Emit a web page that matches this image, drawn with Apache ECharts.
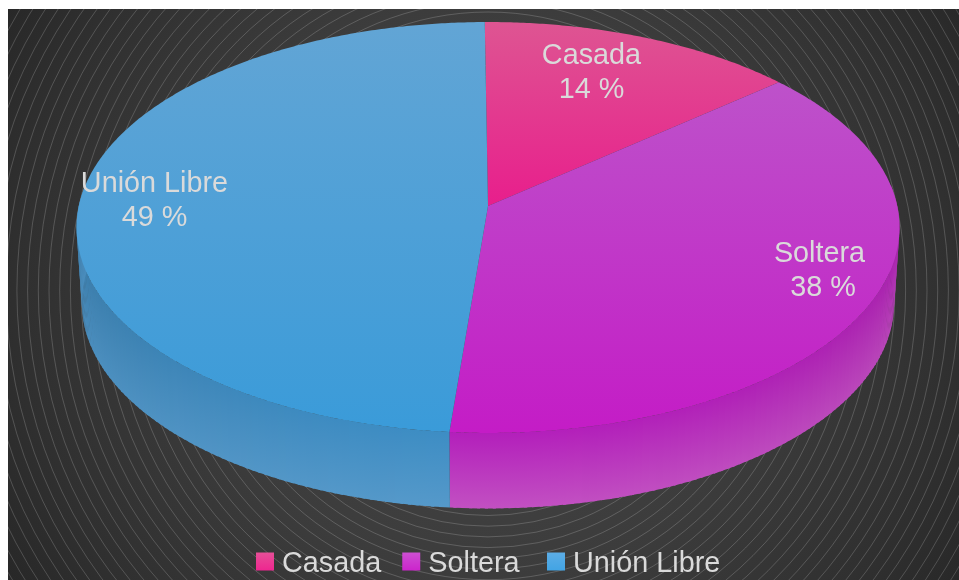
<!DOCTYPE html>
<html>
<head>
<meta charset="utf-8">
<style>html,body{margin:0;padding:0;background:#fff}#chart{width:959px;height:580px}</style>
<script src="https://cdn.jsdelivr.net/npm/echarts@6/dist/echarts.min.js"></script>
</head>
<body>
<div id="chart"></div>
<script>
// Estado civil: tres categorías y su porcentaje
const categories = ['Casada', 'Soltera', 'Unión Libre'];
const percentages = [14, 38, 49];

// Degradados de cara superior, zona trasera a zona frontal
const topColors = [
  ['#de5592', '#e81e8c'],
  ['#bd52ca', '#c41cc6'],
  ['#62a5d5', '#3a9bd9']
];
// Pared lateral: [arriba, abajo] en el frente y en los extremos del disco
const sideFront = [
  ['#c01c78', '#d04c9c'],
  ['#b31fbb', '#c250c2'],
  ['#3d8dc4', '#5599ca']
];
const sideEdge = [
  ['#b01c70', '#c04494'],
  ['#a823ad', '#b846b8'],
  ['#3c7ca9', '#4a8dbd']
];
const swatchColors = [
  ['#e64f97', '#ee2690'],
  ['#cc4fd2', '#cc24cc'],
  ['#5cade6', '#42a4e4']
];

// Proyección en perspectiva del disco
const CX = 488, APEX_Y = 206, AX = 409.2, AY = 203.2, PERSP = 0.1046;
const DEPTH = 75.5, BASE_SCALE = 0.987, START_ANGLE = -0.5;
const labelLayout = [
  { x: 591.5, y: [56, 90] },
  { x: 819.5, y: [254, 288], dx2: 3.5 },
  { x: 154.5, y: [184, 218] }
];

const total = percentages.reduce((a, b) => a + b, 0);

function project(deg, r) {
  const t = deg * Math.PI / 180;
  const u = r * Math.sin(t), v = -r * Math.cos(t);
  const w = 1 - PERSP * v;
  return [CX + AX * u / w, APEX_Y + AY * v / w];
}
function base(p) {
  return [CX + (p[0] - CX) * BASE_SCALE, p[1] + DEPTH];
}
function hex(c) {
  return [1, 3, 5].map(i => parseInt(c.slice(i, i + 2), 16));
}
function mix(a, b, t) {
  const x = hex(a), y = hex(b);
  return 'rgb(' + x.map((n, i) => Math.round(n + (y[i] - n) * t)).join(',') + ')';
}
function vGrad(y1, y2, c1, c2) {
  return { type: 'linear', x: 0, y: y1, x2: 0, y2: y2, global: true,
    colorStops: [{ offset: 0, color: c1 }, { offset: 1, color: c2 }] };
}

function sliceRange(idx) {
  const before = percentages.slice(0, idx).reduce((a, b) => a + b, 0);
  return [START_ANGLE + before / total * 360, START_ANGLE + (before + percentages[idx]) / total * 360];
}

function renderSlice(idx) {
  const [a0, a1] = sliceRange(idx);
  const children = [];

  // Pared lateral: sólo la mitad visible del contorno
  const sideStart = Math.max(a0, 84), sideEnd = Math.min(a1, 276);
  const STEP = 1;
  for (let a = sideStart; a < sideEnd; a += STEP) {
    const b = Math.min(a + STEP + 0.4, sideEnd);
    const p0 = project(a, 1), p1 = project(b, 1);
    const q0 = base(p0), q1 = base(p1);
    const edge = Math.pow(Math.abs(Math.sin(a * Math.PI / 180)), 2);
    const c1 = mix(sideFront[idx][0], sideEdge[idx][0], edge);
    const c2 = mix(sideFront[idx][1], sideEdge[idx][1], edge);
    children.push({
      type: 'polygon',
      shape: { points: [p0, p1, q1, q0] },
      style: { fill: vGrad(Math.min(p0[1], p1[1]), Math.max(q0[1], q1[1]), c1, c2) },
      silent: true
    });
  }

  // Cara superior
  const pts = [project(0, 0)];
  for (let a = a0; a < a1; a += 0.5) pts.push(project(a, 1));
  pts.push(project(a1, 1));
  const ys = pts.map(p => p[1]);
  children.push({
    type: 'polygon',
    shape: { points: pts },
    style: { fill: vGrad(Math.min(...ys), Math.max(...ys), topColors[idx][0], topColors[idx][1]) },
    silent: true
  });

  // Etiqueta de nombre y porcentaje
  const L = labelLayout[idx];
  [categories[idx], percentages[idx] + ' %'].forEach((text, line) => {
    children.push({
      type: 'text',
      z2: 100,
      style: {
        text, x: L.x + (line === 1 && L.dx2 ? L.dx2 : 0), y: L.y[line],
        align: 'center', verticalAlign: 'middle',
        fill: '#dadada', font: '28.8px "Liberation Sans", Arial, sans-serif'
      }
    });
  });
  return { type: 'group', children };
}

// Fondo oscuro con círculos concéntricos
const RING_X = 488, RING_Y = 290.5;
const bg = [{
  type: 'rect', z: -10,
  shape: { x: 8, y: 9, width: 951, height: 571 },
  style: { fill: { type: 'radial', x: RING_X, y: RING_Y, r: 580, global: true,
    colorStops: [
      { offset: 0, color: '#464646' },
      { offset: 0.5, color: '#3c3c3c' },
      { offset: 0.8, color: '#303030' },
      { offset: 1, color: '#262626' }] } },
  silent: true
}];
for (let r = 0.3 + 10.7 * 20; r < 600; r += 10.7) {
  bg.push({
    type: 'circle', z: -9,
    shape: { cx: RING_X, cy: RING_Y, r },
    style: { fill: 'none', stroke: 'rgba(255,255,255,0.3)', lineWidth: 0.6 },
    silent: true
  });
}
// Márgenes blancos alrededor del panel
bg.push(
  { type: 'rect', z: -8, shape: { x: 0, y: 0, width: 959, height: 9 }, style: { fill: '#fff' }, silent: true },
  { type: 'rect', z: -8, shape: { x: 0, y: 0, width: 8, height: 580 }, style: { fill: '#fff' }, silent: true }
);

function legendBlock(left, from, to) {
  return {
    left, top: 550, padding: 0,
    icon: 'rect', itemWidth: 18, itemHeight: 18, itemGap: 21,
    formatter: '{t|{name}}',
    textStyle: {
      padding: [0, 0, 0, 3],
      rich: { t: { color: '#dadada', fontSize: 28.8, fontFamily: '"Liberation Sans", Arial, sans-serif', padding: [6, 0, 0, 0] } }
    },
    selectedMode: false,
    data: categories.slice(from, to).map((name, k) => ({
      name,
      itemStyle: { color: new echarts.graphic.LinearGradient(0, 0, 0, 1, [
        { offset: 0, color: swatchColors[from + k][0] }, { offset: 1, color: swatchColors[from + k][1] }]) }
    }))
  };
}

const chart = echarts.init(document.getElementById('chart'), null, { renderer: 'canvas' });
chart.setOption({
  animation: false,
  backgroundColor: '#ffffff',
  graphic: { elements: bg },
  legend: [legendBlock(256, 0, 2), legendBlock(547, 2, 3)],
  series: categories.map((name, i) => ({
    type: 'custom',
    name,
    coordinateSystem: 'none',
    silent: true,
    z: 2 + i,
    itemStyle: { color: swatchColors[i][1] },
    data: [percentages[i]],
    renderItem: () => renderSlice(i)
  }))
});
</script>
</body>
</html>
